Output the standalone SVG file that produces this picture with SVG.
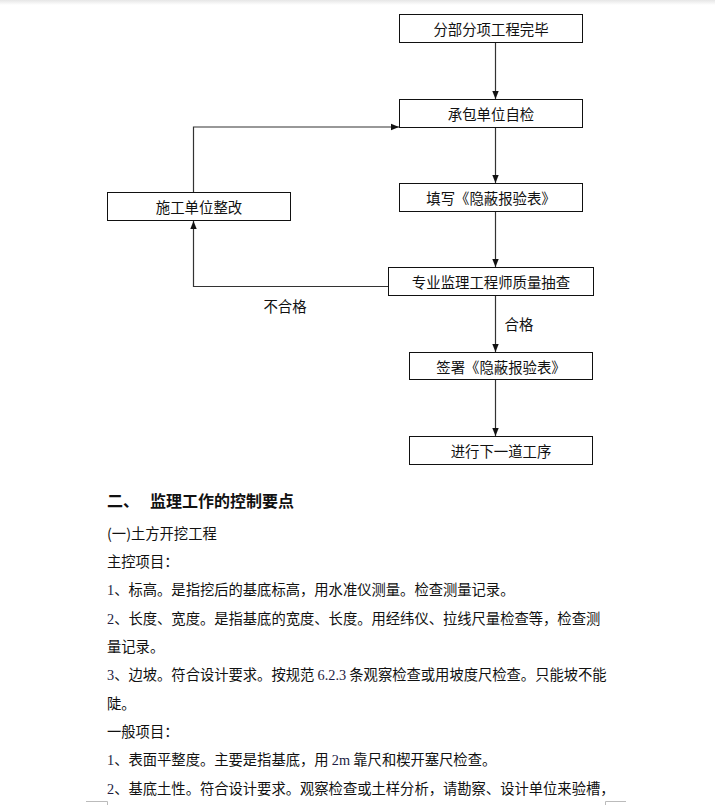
<svg xmlns="http://www.w3.org/2000/svg" width="715" height="805" viewBox="0 0 715 805">
<defs>
<linearGradient id="topshade" x1="0" y1="0" x2="0" y2="1">
<stop offset="0" stop-color="#e6e6e6"/>
<stop offset="1" stop-color="#ffffff"/>
</linearGradient>
<marker id="arr" viewBox="0 0 8 8" refX="8" refY="4" markerWidth="8" markerHeight="8" markerUnits="userSpaceOnUse" orient="auto">
<path d="M0,0.8 L8,4 L0,7.2 Z" fill="#111"/>
</marker>
</defs>
<style>
.box rect{fill:#fff;stroke:#111;stroke-width:1}
.box text,.lbl{font-family:"Noto Sans CJK SC","Noto Sans",sans-serif;font-size:14.4px;fill:#111;text-anchor:middle;dominant-baseline:central}
.conn path{fill:none;stroke:#333;stroke-width:1.2}
.body{font-family:"Noto Sans CJK SC","Noto Sans",sans-serif;font-size:14.3px;fill:#111}
.num{font-family:"Liberation Serif",serif;fill:#1c1c44}
.h{font-family:"Noto Sans CJK SC",sans-serif;font-size:16px;font-weight:bold;fill:#111}
.mark{fill:none;stroke:#bbb;stroke-width:1}
</style>
<rect x="0" y="0" width="715" height="805" fill="#fff"/>
<rect x="0" y="0" width="715" height="5" fill="url(#topshade)"/>

<g id="n1" class="box"><rect x="399.5" y="14.5" width="183" height="28"/><text x="491" y="28.5">分部分项工程完毕</text></g>
<g id="n2" class="box"><rect x="399.5" y="99.5" width="183" height="28"/><text x="491" y="113.5">承包单位自检</text></g>
<g id="n3" class="box"><rect x="399.5" y="183.5" width="183" height="28"/><text x="491" y="197.5">填写《隐蔽报验表》</text></g>
<g id="n4" class="box"><rect x="388.5" y="267.5" width="205" height="28"/><text x="491" y="281.5">专业监理工程师质量抽查</text></g>
<g id="n5" class="box"><rect x="409.5" y="352.5" width="183" height="27"/><text x="501" y="366">签署《隐蔽报验表》</text></g>
<g id="n6" class="box"><rect x="409.5" y="436.5" width="183" height="28"/><text x="501" y="450.5">进行下一道工序</text></g>
<g id="n7" class="box"><rect x="107.5" y="192.5" width="183" height="28"/><text x="199" y="206.5">施工单位整改</text></g>

<g id="connectors" class="conn">
<path d="M495.5,43 V99" marker-end="url(#arr)"/>
<path d="M495.5,128 V183" marker-end="url(#arr)"/>
<path d="M495.5,212 V267" marker-end="url(#arr)"/>
<path d="M495.5,296 V352" marker-end="url(#arr)"/>
<path d="M495.5,380 V436" marker-end="url(#arr)"/>
<path d="M388,286.5 H193.5 V221" marker-end="url(#arr)"/>
<path d="M193.5,192 V127 H399" marker-end="url(#arr)"/>
</g>
<text class="lbl" x="285" y="305">不合格</text>
<text class="lbl" x="519" y="323">合格</text>

<text class="h" x="107" y="507">二、</text>
<text class="h" x="150" y="507">监理工作的控制要点</text>
<text class="body" x="107" y="539" font-size="14">(一)土方开挖工程</text>
<text class="body" x="107" y="567">主控项目：</text>
<text class="body" x="107" y="595"><tspan class="num">1</tspan>、标高。是指挖后的基底标高，用水准仪测量。检查测量记录。</text>
<text class="body" x="107" y="623.5"><tspan class="num">2</tspan>、长度、宽度。是指基底的宽度、长度。用经纬仪、拉线尺量检查等，检查测</text>
<text class="body" x="107" y="652">量记录。</text>
<text class="body" x="107" y="680"><tspan class="num">3</tspan>、边坡。符合设计要求。按规范 <tspan class="num">6.2.3</tspan> 条观察检查或用坡度尺检查。只能坡不能</text>
<text class="body" x="107" y="708.5">陡。</text>
<text class="body" x="107" y="737">一般项目：</text>
<text class="body" x="107" y="765"><tspan class="num">1</tspan>、表面平整度。主要是指基底，用 <tspan class="num">2m</tspan> 靠尺和楔开塞尺检查。</text>
<text class="body" x="107" y="793.5"><tspan class="num">2</tspan>、基底土性。符合设计要求。观察检查或土样分析，请勘察、设计单位来验槽，</text>

<path class="mark" d="M86,801.5 H107.5 V805"/>
<path class="mark" d="M626,801.5 H605.5 V805"/>
</svg>
